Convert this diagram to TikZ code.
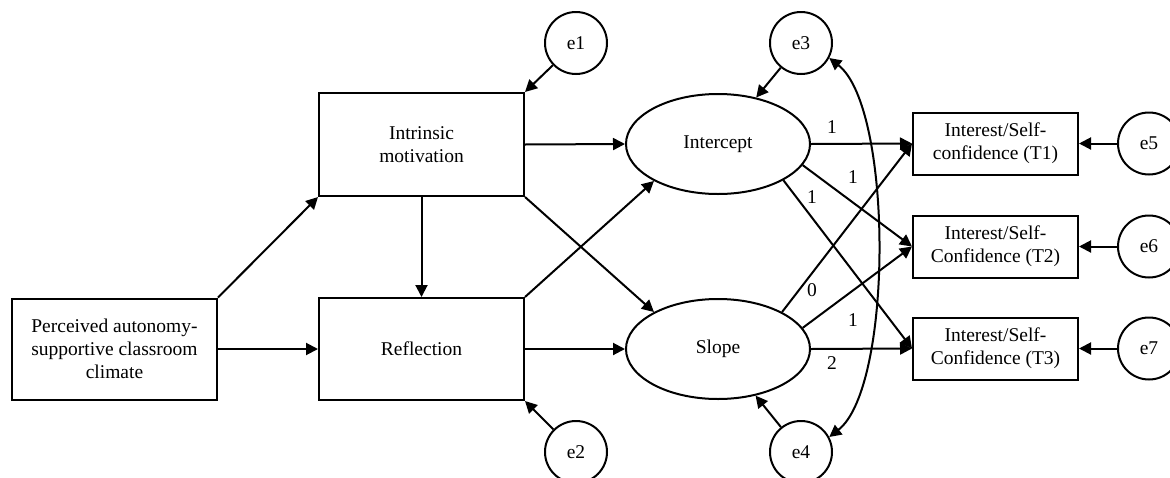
\documentclass[tikz,border=0pt]{standalone}
\usepackage{fontspec}
\setmainfont{Liberation Serif}
\usetikzlibrary{arrows.meta,shapes.geometric}
\begin{document}
\begin{tikzpicture}[x=1pt,y=-1pt,
  every node/.style={font=\fontsize{19.5}{23}\selectfont},
  box/.style={draw, line width=2pt, rectangle, inner sep=0pt, align=center},
  ell/.style={draw, line width=2pt, ellipse, minimum width=184pt, minimum height=100pt, inner sep=0pt},
  err/.style={draw, line width=2pt, circle, minimum size=62pt, inner sep=0pt},
  arr/.style={line width=2pt, -{Triangle[length=12pt,width=12pt]}},
  biarr/.style={line width=2pt, {Triangle[length=12pt,width=12pt]}-{Triangle[length=12pt,width=12pt]}},
  lbl/.style={inner sep=0pt}
]
\useasboundingbox (0,0) rectangle (1170,477);

% observed boxes
\node[box, minimum width=205pt, minimum height=101pt] (P) at (114.5,349) {Perceived autonomy-\\supportive classroom\\climate};
\node[box, minimum width=205pt, minimum height=103pt] (I) at (421.5,144.5) {Intrinsic\\motivation};
\node[box, minimum width=205pt, minimum height=102pt] (R) at (421.5,349) {Reflection};

% latent
\node[ell] (Int) at (718,144) {Intercept};
\node[ell] (Sl) at (718,349) {Slope};

% indicators
\node[box, minimum width=165pt, minimum height=62pt] (T1) at (995.5,143.5) {Interest/Self-\\confidence (T1)};
\node[box, minimum width=165pt, minimum height=62pt] (T2) at (995.5,246.5) {Interest/Self-\\Confidence (T2)};
\node[box, minimum width=165pt, minimum height=62pt] (T3) at (995.5,348.5) {Interest/Self-\\Confidence (T3)};

% errors
\node[err] (e1) at (576,43) {e1};
\node[err] (e2) at (576,452) {e2};
\node[err] (e3) at (801,43) {e3};
\node[err] (e4) at (801,452) {e4};
\node[err] (e5) at (1149,143.5) {e5};
\node[err] (e6) at (1149,246.5) {e6};
\node[err] (e7) at (1149,348.5) {e7};

% structural paths
\draw[arr] (P.north east) -- (I.south west);
\draw[arr] (P.east) -- (R.west);
\draw[arr] (I.south) -- (R.north);
\draw[arr] (I.east) -- (Int.west);
\draw[arr] (I.south east) -- (Sl.150);
\draw[arr] (R.north east) -- (Int.210);
\draw[arr] (R.east) -- (Sl.west);

% error paths
\draw[arr] (e1) -- (I.north east);
\draw[arr] (e2) -- (R.south east);
\draw[arr] (e3) -- (Int);
\draw[arr] (e4) -- (Sl);
\draw[arr] (e5) -- (T1.east);
\draw[arr] (e6) -- (T2.east);
\draw[arr] (e7) -- (T3.east);

% loadings
\draw[arr] (Int.east) -- (T1.west);
\draw[arr] (Int.-14) -- (T2.west);
\draw[arr] (Int.-29) -- (T3.west);
\draw[arr] (Sl.30) -- (T1.west);
\draw[arr] (Sl.14) -- (T2.west);
\draw[arr] (Sl.east) -- (T3.west);

% covariance
\draw[biarr] (e3.-28) .. controls +(64,50) and +(64,-50) .. (e4.28);

% loading labels
\node[lbl] (l1) at (832,127) {1};
\node[lbl] (l2) at (853,177) {1};
\node[lbl] (l3) at (812,197) {1};
\node[lbl] (l4) at (812,290) {0};
\node[lbl] (l5) at (853,320) {1};
\node[lbl] (l6) at (832,363) {2};
\end{tikzpicture}
\end{document}
